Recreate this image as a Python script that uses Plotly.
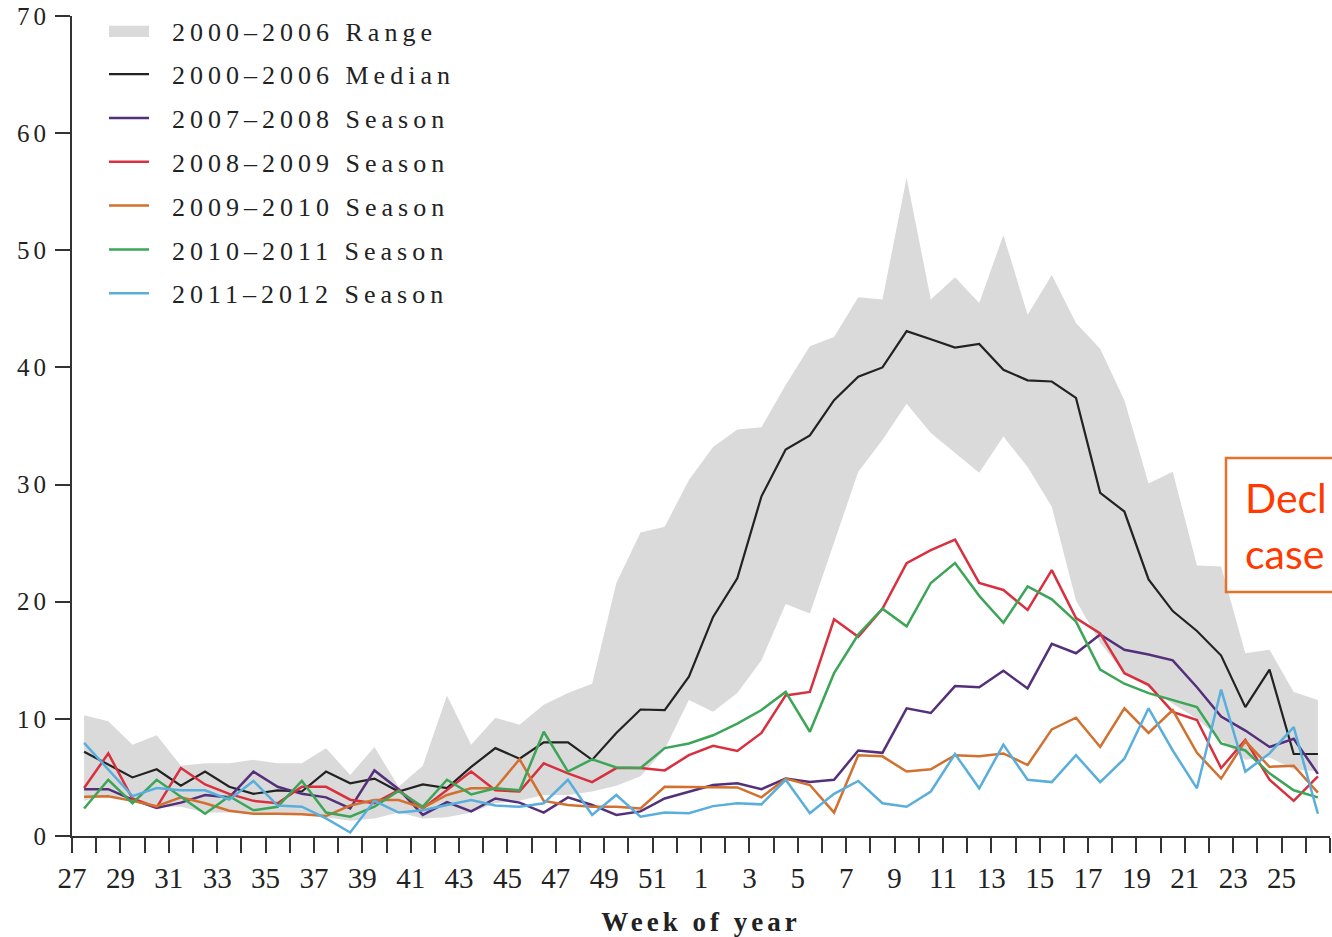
import numpy as np
import plotly.graph_objects as go

# ---------------- data ----------------
weeks = list(range(27, 53)) + list(range(1, 27))

range_low = [3.0, 3.5, 3.0, 2.5, 2.5, 2.0, 2.0, 2.0, 1.8, 1.8,
             1.6, 1.3, 1.5, 2.0, 1.5, 1.6, 2.0, 2.8, 3.0, 3.5,
             3.5, 3.8, 4.3, 5.1, 7.4, 11.6, 10.6, 12.2, 15.0, 19.8,
             19.0, 25.0, 31.1, 33.8, 36.9, 34.4, 32.7, 31.0, 34.1, 31.5,
             28.1, 20.1, 16.5, 13.9, 12.7, 11.3, 10.0, 8.2, 6.5, 6.7,
             5.7, 5.5]
range_high = [10.3, 9.8, 7.8, 8.6, 6.0, 6.2, 6.2, 6.5, 6.2, 6.2,
              7.5, 5.2, 7.6, 4.2, 6.0, 12.0, 7.8, 10.1, 9.5, 11.2,
              12.2, 13.0, 21.6, 25.9, 26.4, 30.4, 33.2, 34.7, 34.9, 38.5,
              41.8, 42.6, 46.0, 45.8, 56.2, 45.8, 47.7, 45.5, 51.3, 44.5,
              47.9, 43.8, 41.6, 37.2, 30.1, 31.1, 23.1, 23.0, 15.6, 15.9,
              12.3, 11.6]
median_0006 = [7.2, 6.1, 5.0, 5.7, 4.3, 5.5, 4.2, 3.6, 3.9, 3.8,
               5.5, 4.5, 4.9, 3.8, 4.4, 4.1, 5.9, 7.5, 6.6, 8.0,
               8.0, 6.5, 8.8, 10.8, 10.75, 13.6, 18.7, 22.0, 29.0, 33.0,
               34.2, 37.2, 39.2, 40.0, 43.1, 42.4, 41.7, 42.0, 39.8, 38.9,
               38.8, 37.4, 29.3, 27.7, 21.9, 19.2, 17.5, 15.4, 11.0, 14.2,
               7.0, 7.0]
season_0708 = [4.0, 4.0, 3.1, 2.4, 2.85, 3.5, 3.3, 5.5, 4.2, 3.6,
               3.3, 2.35, 5.6, 4.0, 1.8, 2.9, 2.1, 3.2, 2.85, 2.0,
               3.3, 2.65, 1.8, 2.1, 3.2, 3.8, 4.35, 4.5, 4.0, 4.9,
               4.6, 4.8, 7.3, 7.1, 10.9, 10.5, 12.8, 12.7, 14.1, 12.6,
               16.4, 15.6, 17.2, 15.9, 15.5, 15.0, 12.7, 10.2, 9.0, 7.6,
               8.3, 5.3]
season_0809 = [4.1, 7.05, 3.2, 2.45, 5.8, 4.4, 3.6, 3.0, 2.8, 4.2,
               4.2, 3.1, 2.8, 3.9, 2.35, 3.9, 5.5, 3.9, 3.8, 6.2,
               5.35, 4.6, 5.8, 5.8, 5.6, 6.9, 7.7, 7.26, 8.8, 12.0,
               12.3, 18.5, 17.0, 19.4, 23.3, 24.4, 25.3, 21.6, 21.0, 19.3,
               22.7, 18.6, 17.3, 13.9, 12.9, 10.6, 9.9, 5.8, 8.2, 4.8,
               3.0, 5.1]
season_0910 = [3.35, 3.4, 3.0, 2.55, 3.3, 2.8, 2.15, 1.9, 1.9, 1.85,
               1.7, 2.6, 3.07, 3.07, 2.4, 3.5, 4.07, 4.07, 6.55, 3.0,
               2.65, 2.5, 2.5, 2.35, 4.2, 4.2, 4.2, 4.15, 3.3, 4.9,
               4.35, 2.0, 6.9, 6.8, 5.5, 5.7, 6.9, 6.8, 7.05, 6.06,
               9.1, 10.1, 7.6, 10.9, 8.8, 10.75, 7.1, 4.9, 8.1, 5.9,
               6.0, 3.7]
season_1011 = [2.35, 4.8, 2.8, 4.8, 3.35, 1.9, 3.4, 2.2, 2.5, 4.7,
               2.0, 1.65, 2.5, 3.85, 2.5, 4.8, 3.55, 4.07, 3.9, 8.9,
               5.5, 6.55, 5.85, 5.8, 7.5, 7.9, 8.6, 9.6, 10.75, 12.3,
               8.9, 13.9, 17.2, 19.4, 17.9, 21.6, 23.3, 20.5, 18.2, 21.3,
               20.2, 18.3, 14.2, 13.0, 12.2, 11.6, 11.0, 7.9, 7.3, 5.35,
               3.9, 3.3]
season_1112 = [7.95, 5.7, 3.4, 4.1, 3.9, 3.9, 3.1, 4.7, 2.6, 2.5,
               1.5, 0.3, 3.0, 2.0, 2.2, 2.65, 3.07, 2.6, 2.5, 2.8,
               4.8, 1.8, 3.5, 1.65, 2.0, 1.95, 2.55, 2.8, 2.7, 4.8,
               1.95, 3.6, 4.7, 2.8, 2.5, 3.8, 7.0, 4.07, 7.8, 4.8,
               4.6, 6.9, 4.6, 6.6, 10.9, 7.3, 4.07, 12.5, 5.5, 7.05,
               9.3, 1.9]

season_names = ["2007–2008 Season", "2008–2009 Season", "2009–2010 Season",
                "2010–2011 Season", "2011–2012 Season"]
season_values = [season_0708, season_0809, season_0910, season_1011, season_1112]
season_colors = ["#55307A", "#D8303E", "#D2702F", "#3DA557", "#5AAEDC"]

# week i sits in the middle of the i-th tick interval
x = np.arange(len(weeks)) + 0.5
tick_vals = list(range(len(weeks) + 1))
tick_text = [str(weeks[k]) if (k % 2 == 0 and k < len(weeks)) else "" for k in tick_vals]

SERIF = "Liberation Serif"
AX = "#333333"

fig = go.Figure()
fig.add_trace(go.Scatter(x=x, y=range_low, mode="lines", line=dict(width=0),
                         showlegend=False, legendgroup="g0", hoverinfo="skip"))
fig.add_trace(go.Scatter(x=x, y=range_high, mode="lines", line=dict(width=0),
                         fill="tonexty", fillcolor="#DADADA",
                         name="2000–2006 Range", legendgroup="g0"))
fig.add_trace(go.Scatter(x=x, y=median_0006, mode="lines",
                         line=dict(color="#222222", width=2.2),
                         name="2000–2006 Median", legendgroup="g1"))
for k, (nm, vals, col) in enumerate(zip(season_names, season_values, season_colors)):
    fig.add_trace(go.Scatter(x=x, y=vals, mode="lines",
                             line=dict(color=col, width=2.5),
                             name=nm, legendgroup=f"s{k}"))

W, H = 1332, 937
ml, mr, mt, mb = 72, 2, 16, 101
pw = W - ml - mr
ph = H - mt - mb


def px_x(p):
    return (p - ml) / pw


def px_y(p):
    return (H - mb - p) / ph


fig.update_layout(
    width=W, height=H,
    margin=dict(l=ml, r=mr, t=mt, b=mb),
    paper_bgcolor="white", plot_bgcolor="white",
    font=dict(family=SERIF, color="#222222"),
    showlegend=True,
    legend=dict(x=px_x(104), y=1.0 + 9 / ph, xanchor="left", yanchor="top",
                bgcolor="rgba(0,0,0,0)", font=dict(family=SERIF, size=26, color="#222222"),
                traceorder="grouped", tracegroupgap=7, itemwidth=40),
    xaxis=dict(range=[0, len(weeks)], tickmode="array", tickvals=tick_vals, ticktext=tick_text,
               ticks="outside", ticklen=15, tickwidth=2, tickcolor=AX,
               showline=True, linecolor=AX, linewidth=2, showgrid=False, zeroline=False,
               tickfont=dict(family=SERIF, size=29, color="#222222"),
               title=dict(text="Week of year", standoff=22,
                          font=dict(family=SERIF, size=27, color="#222222", weight="bold"))),
    yaxis=dict(range=[0, 70], tickmode="array", tickvals=list(range(0, 71, 10)),
               ticks="outside", ticklen=15, tickwidth=2, tickcolor=AX,
               showline=True, linecolor=AX, linewidth=2, showgrid=False, zeroline=False,
               tickfont=dict(family=SERIF, size=25, color="#222222")),
    shapes=[
        dict(type="line", xref="paper", yref="paper", x0=px_x(57), x1=0, y0=0, y1=0,
             line=dict(color=AX, width=2)),
        dict(type="rect", xref="paper", yref="paper", x0=px_x(1226), x1=px_x(1400),
             y0=px_y(592), y1=px_y(458), line=dict(color="#E8712A", width=2.5),
             fillcolor="white", layer="above"),
    ],
    annotations=[
        dict(text="Decl", xref="paper", yref="paper", x=px_x(1243), y=px_y(497),
             xanchor="left", yanchor="middle", showarrow=False,
             font=dict(family="Lato", size=41, color="#FF3A00")),
        dict(text="case", xref="paper", yref="paper", x=px_x(1243), y=px_y(553),
             xanchor="left", yanchor="middle", showarrow=False,
             font=dict(family="Lato", size=41, color="#FF3A00")),
    ],
)

post = ("var st=document.createElement('style');"
        "st.innerHTML='body{margin:0;overflow:hidden}"
        ".legend .scrollbox{clip-path:none !important}"
        ".legendtext{letter-spacing:5px;transform:translateX(18px)}"
        ".legendfill path{transform-box:fill-box;transform-origin:center;transform:scaleY(1.9)}"
        ".xtitle{letter-spacing:4px}"
        ".ytick text{letter-spacing:4px}';document.head.appendChild(st);")
fig.write_html("out.html", post_script=post, config={"displayModeBar": False})
